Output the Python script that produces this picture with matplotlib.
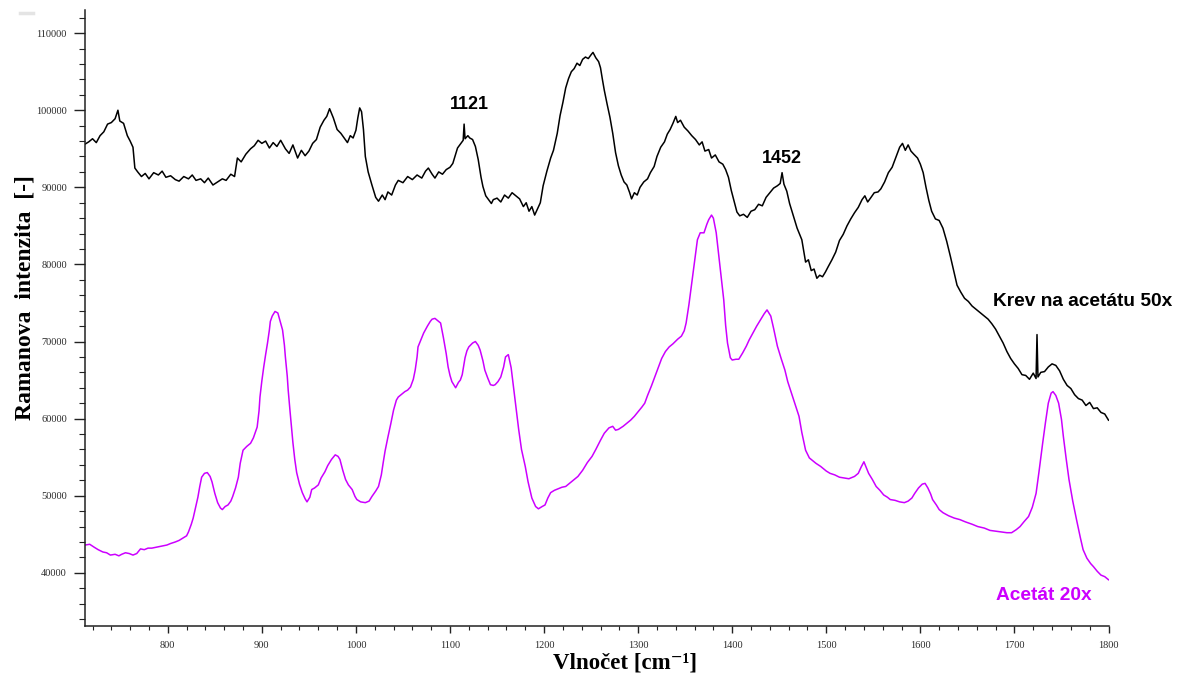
import matplotlib
matplotlib.use("Agg")
import matplotlib.pyplot as plt
from matplotlib.ticker import MultipleLocator
from matplotlib.lines import Line2D

# Raman spectrum of blood on acetate (50x objective)
krev_x = [712, 716, 720, 724, 728, 732, 736, 740, 744, 747, 749, 753, 757, 760, 763, 765, 768, 772, 776, 780,
          785, 790, 794, 798, 803, 808, 812, 817, 822, 826, 830, 835, 839, 843, 848, 853, 858, 862, 867, 871,
          874, 878, 883, 888, 892, 896, 900, 904, 908, 912, 916, 920, 925, 929, 933, 938, 942, 946, 950, 954,
          958, 962, 966, 969, 972, 976, 980, 984, 988, 991, 994, 997, 1000, 1002, 1004, 1006, 1008, 1010, 1013, 1017,
          1021, 1024, 1028, 1031, 1034, 1038, 1042, 1045, 1050, 1055, 1060, 1065, 1070, 1074, 1077, 1081, 1084, 1088, 1092, 1096,
          1100, 1103, 1106, 1108, 1111, 1114, 1115, 1116, 1119, 1121, 1124, 1127, 1130, 1133, 1135, 1138, 1141, 1144, 1146, 1150,
          1154, 1158, 1162, 1166, 1170, 1174, 1178, 1181, 1184, 1187, 1190, 1193, 1196, 1199, 1203, 1207, 1210, 1214, 1217, 1220,
          1223, 1226, 1229, 1232, 1235, 1238, 1241, 1244, 1247, 1250, 1252, 1255, 1258, 1260, 1262, 1264, 1267, 1270, 1273, 1276,
          1279, 1282, 1285, 1288, 1291, 1293, 1296, 1299, 1302, 1306, 1310, 1313, 1317, 1320, 1324, 1328, 1331, 1334, 1337, 1340,
          1342, 1345, 1349, 1353, 1357, 1361, 1365, 1368, 1371, 1375, 1378, 1382, 1386, 1390, 1393, 1396, 1399, 1402, 1405, 1408,
          1412, 1416, 1420, 1424, 1428, 1432, 1436, 1440, 1444, 1448, 1451, 1453, 1455, 1458, 1461, 1465, 1469, 1474, 1478, 1481,
          1484, 1487, 1490, 1493, 1496, 1499, 1502, 1506, 1510, 1514, 1518, 1522, 1526, 1530, 1534, 1538, 1541, 1544, 1547, 1551,
          1555, 1558, 1562, 1566, 1570, 1574, 1578, 1581, 1584, 1587, 1590, 1593, 1597, 1600, 1603, 1606, 1609, 1612, 1616, 1620,
          1624, 1628, 1632, 1636, 1639, 1643, 1647, 1651, 1655, 1660, 1664, 1668, 1672, 1676, 1680, 1684, 1688, 1692, 1696, 1700,
          1704, 1708, 1712, 1716, 1720, 1723, 1724, 1725, 1728, 1732, 1736, 1740, 1744, 1748, 1752, 1756, 1760, 1764, 1768, 1772,
          1776, 1780, 1784, 1788, 1792, 1796, 1800]
krev_y = [95600, 95900, 96300, 95800, 96700, 97200, 98200, 98400, 98900, 100000, 98600, 98300, 96700, 96000, 95200, 92500, 92000, 91400, 91800, 91100,
          91900, 91600, 92100, 91300, 91500, 91000, 90800, 91400, 91100, 91600, 90900, 91100, 90600, 91200, 90300, 90700, 91100, 90900, 91700, 91400,
          93800, 93300, 94300, 95000, 95400, 96100, 95700, 96000, 95100, 95800, 95300, 96100, 95000, 94400, 95500, 93800, 94800, 94100, 94700, 95700,
          96200, 97800, 98700, 99200, 100200, 99000, 97500, 97000, 96300, 95800, 96700, 96400, 97400, 99000, 100300, 99800, 97500, 94000, 92000, 90300,
          88700, 88200, 89000, 88400, 89400, 89000, 90300, 90900, 90600, 91400, 91000, 91600, 91200, 92100, 92500, 91700, 91200, 92000, 91700, 92300,
          92600, 93100, 94300, 95100, 95600, 96100, 98200, 96300, 96700, 96400, 96200, 95300, 93600, 91300, 90100, 88900, 88400, 87900, 88400, 88600,
          88100, 89000, 88600, 89300, 88900, 88500, 87500, 88000, 86900, 87500, 86400, 87200, 88000, 90200, 92100, 93800, 94800, 97000, 99300, 101000,
          102900, 104100, 105000, 105400, 106100, 105800, 106600, 106900, 106700, 107200, 107500, 106800, 106300, 105500, 104000, 102600, 100800, 99100, 97000, 94500,
          92800, 91600, 90700, 90300, 89300, 88500, 89300, 89000, 90000, 90700, 91100, 91900, 92700, 94000, 95200, 95900, 96900, 97500, 98300, 99200,
          98400, 98700, 97800, 97300, 96700, 96200, 95500, 95900, 94700, 94900, 93800, 94200, 93300, 93000, 92300, 91300, 89600, 88200, 86800, 86300,
          86500, 86100, 86900, 87100, 87800, 87600, 88700, 89300, 89900, 90200, 90500, 91900, 90400, 89500, 87900, 86300, 84700, 83200, 80300, 80600,
          79200, 79400, 78200, 78600, 78400, 79000, 79700, 80600, 81600, 83100, 83900, 85000, 85900, 86700, 87400, 88400, 88900, 88100, 88600, 89300,
          89400, 89800, 90700, 91900, 92600, 93900, 95200, 95700, 94800, 95500, 94700, 94300, 93800, 93000, 91900, 90000, 88300, 86900, 85900, 85700,
          84700, 83000, 81000, 78900, 77300, 76400, 75600, 75200, 74600, 74100, 73700, 73300, 72900, 72300, 71600, 70700, 69800, 68700, 67800, 67100,
          66500, 65700, 65600, 65100, 65900, 65200, 70900, 65400, 66000, 66100, 66700, 67100, 66900, 66200, 65100, 64300, 63900, 63100, 62600, 62400,
          61700, 62100, 61300, 61400, 60800, 60600, 59800]

# Raman spectrum of the acetate foil (20x objective)
acetat_x = [712, 717, 722, 726, 731, 735, 739, 744, 748, 751, 755, 759, 763, 767, 771, 775, 779, 783, 787, 791,
            795, 799, 803, 808, 812, 816, 820, 822, 825, 827, 830, 832, 834, 836, 839, 842, 845, 847, 850, 853,
            856, 858, 861, 864, 867, 869, 872, 875, 877, 880, 884, 888, 891, 893, 895, 897, 898, 900, 902, 904,
            906, 908, 909, 911, 914, 917, 919, 922, 924, 925, 927, 928, 930, 933, 935, 937, 940, 943, 946, 948,
            951, 953, 956, 960, 963, 967, 970, 974, 978, 981, 983, 986, 989, 992, 996, 999, 1001, 1005, 1010, 1014,
            1017, 1021, 1024, 1027, 1029, 1031, 1034, 1037, 1040, 1043, 1045, 1049, 1052, 1055, 1058, 1061, 1063, 1065, 1066, 1069,
            1072, 1076, 1079, 1081, 1084, 1086, 1090, 1093, 1096, 1098, 1100, 1102, 1106, 1109, 1111, 1113, 1116, 1118, 1120, 1124,
            1127, 1130, 1132, 1135, 1137, 1140, 1143, 1146, 1148, 1151, 1154, 1157, 1159, 1162, 1165, 1167, 1170, 1173, 1176, 1180,
            1183, 1187, 1191, 1194, 1198, 1201, 1204, 1207, 1211, 1215, 1219, 1223, 1228, 1232, 1236, 1241, 1246, 1251, 1255, 1260,
            1264, 1269, 1273, 1276, 1279, 1284, 1288, 1292, 1296, 1300, 1304, 1307, 1310, 1314, 1318, 1322, 1325, 1329, 1333, 1337,
            1342, 1346, 1349, 1351, 1354, 1357, 1360, 1363, 1366, 1370, 1373, 1375, 1378, 1380, 1383, 1385, 1387, 1389, 1391, 1393,
            1395, 1398, 1400, 1404, 1407, 1411, 1415, 1418, 1422, 1426, 1430, 1434, 1437, 1441, 1444, 1448, 1452, 1456, 1459, 1463,
            1467, 1471, 1474, 1478, 1482, 1486, 1489, 1494, 1500, 1504, 1509, 1514, 1519, 1524, 1530, 1534, 1537, 1540, 1542, 1545,
            1549, 1553, 1557, 1561, 1565, 1568, 1573, 1578, 1583, 1587, 1591, 1594, 1598, 1602, 1605, 1608, 1611, 1613, 1617, 1620,
            1624, 1630, 1636, 1642, 1648, 1655, 1661, 1668, 1674, 1680, 1686, 1692, 1697, 1702, 1706, 1710, 1715, 1719, 1723, 1726,
            1730, 1733, 1736, 1739, 1741, 1744, 1747, 1750, 1752, 1755, 1758, 1762, 1766, 1770, 1773, 1777, 1781, 1784, 1788, 1792,
            1796, 1800]
acetat_y = [43600, 43700, 43300, 43000, 42700, 42600, 42300, 42400, 42200, 42400, 42600, 42500, 42300, 42500, 43100, 43000, 43200, 43200, 43300, 43400,
            43500, 43600, 43800, 44000, 44200, 44500, 44800, 45300, 46300, 47100, 48700, 49800, 51200, 52400, 52900, 53000, 52500, 51800, 50300, 49100,
            48400, 48200, 48600, 48800, 49300, 49900, 51000, 52400, 54200, 55900, 56400, 56800, 57500, 58200, 58900, 61000, 62800, 64900, 66700, 68300,
            69800, 71500, 72600, 73300, 73900, 73700, 72800, 71500, 69500, 68000, 65500, 63700, 60900, 56900, 54700, 53000, 51500, 50400, 49600, 49200,
            49800, 50800, 51000, 51400, 52300, 53100, 53900, 54700, 55300, 55100, 54700, 53300, 52100, 51400, 50800, 49900, 49500, 49200, 49100, 49300,
            49900, 50600, 51200, 52700, 54300, 55800, 57600, 59300, 61100, 62400, 62800, 63200, 63500, 63700, 64100, 65100, 66300, 68000, 69300, 70200,
            71100, 72000, 72600, 72900, 73000, 72800, 72400, 70500, 68400, 66700, 65600, 64800, 64000, 64700, 65000, 65700, 67900, 68800, 69300, 69800,
            70000, 69500, 68900, 67500, 66300, 65300, 64400, 64300, 64400, 64800, 65400, 66700, 68000, 68300, 66600, 64600, 61500, 58600, 56000, 53800,
            51800, 49700, 48600, 48300, 48600, 48800, 49700, 50400, 50700, 50900, 51100, 51200, 51700, 52100, 52500, 53300, 54300, 55100, 56000, 57200,
            58100, 58800, 59000, 58500, 58600, 59000, 59400, 59800, 60300, 60900, 61500, 62000, 63000, 64200, 65500, 66800, 67800, 68700, 69300, 69700,
            70300, 70700, 71400, 72400, 74800, 77600, 80500, 83200, 84100, 84100, 85200, 85800, 86400, 86000, 84100, 81900, 79700, 77600, 75400, 72100,
            69800, 67900, 67600, 67700, 67700, 68500, 69400, 70200, 71100, 72000, 72800, 73600, 74100, 73300, 71700, 69400, 67800, 66300, 64800, 63300,
            61800, 60300, 58200, 55900, 54900, 54500, 54200, 53800, 53200, 52900, 52700, 52400, 52300, 52200, 52500, 52900, 53700, 54400, 53800, 52900,
            52100, 51200, 50700, 50100, 49800, 49500, 49400, 49200, 49100, 49300, 49700, 50300, 51000, 51500, 51600, 51000, 50200, 49500, 48800, 48200,
            47800, 47400, 47100, 46900, 46600, 46300, 46000, 45800, 45500, 45400, 45300, 45200, 45200, 45600, 46000, 46600, 47300, 48500, 50300, 53000,
            56800, 59500, 62000, 63300, 63500, 63000, 62000, 59900, 57700, 54800, 52100, 49300, 46900, 44600, 43000, 41900, 41200, 40800, 40200, 39700,
            39500, 39100]

# Band positions marked on the blood spectrum
peak_labels = ["1121", "1452"]
peak_label_x = [1121, 1453]
peak_label_y = [100700, 93800]

series_names = ["Krev na acetátu 50x", "Acetát 20x"]

KREV_COLOR = "black"
ACETAT_COLOR = "#CC00FF"

fig = plt.figure(figsize=(11.89, 6.75), dpi=100)
ax = fig.add_axes([85 / 1189, 1 - 626 / 675, (1108.5 - 85) / 1189, (626 - 10) / 675])

ax.plot(krev_x, krev_y, color=KREV_COLOR, lw=1.1)
ax.plot(acetat_x, acetat_y, color=ACETAT_COLOR, lw=1.1)

ax.set_xlim(712, 1800)
ax.set_ylim(33100, 113000)

for s in ["top", "right"]:
    ax.spines[s].set_visible(False)
for s in ["left", "bottom"]:
    ax.spines[s].set_linewidth(1.1)
    ax.spines[s].set_color("#222222")

ax.xaxis.set_major_locator(MultipleLocator(100))
ax.xaxis.set_minor_locator(MultipleLocator(20))
ax.yaxis.set_major_locator(MultipleLocator(10000))
ax.yaxis.set_minor_locator(MultipleLocator(2000))

ax.tick_params(axis="x", which="major", direction="out", length=5, width=1.0, color="#222222", pad=6)
ax.tick_params(axis="x", which="minor", direction="out", length=3, width=0.8, color="#222222")
ax.tick_params(axis="y", which="major", direction="out", length=8, width=1.0, color="#222222", pad=5)
ax.tick_params(axis="y", which="minor", direction="out", length=4.3, width=0.8, color="#222222")

for lab in ax.get_xticklabels() + ax.get_yticklabels():
    lab.set_fontfamily("Liberation Serif")
    lab.set_fontsize(7.5)
    lab.set_color("#2b2b2b")

for t, x, y in zip(peak_labels, peak_label_x, peak_label_y):
    ax.text(x, y, t, ha="center", va="center", fontsize=13, fontweight="bold",
            family="Liberation Sans", color="black")

ax.text(1677.5, 75150, series_names[0], ha="left", va="center", fontsize=13.8,
        fontweight="bold", family="Liberation Sans", color=KREV_COLOR)
ax.text(1680.5, 37000, series_names[1], ha="left", va="center", fontsize=13.8,
        fontweight="bold", family="Liberation Sans", color=ACETAT_COLOR)

fig.text(25 / 1189, 1 - 298 / 675, "Ramanova  intenzita  [-]", rotation=90, ha="center", va="center",
         fontsize=17, fontweight="bold", family="Liberation Serif")
fig.text(625 / 1189, 1 - 663 / 675, "Vlnočet [cm⁻¹]", ha="center", va="center",
         fontsize=16.5, fontweight="bold", family=["Liberation Serif", "DejaVu Serif"])

# small grey mark in the top-left corner
fig.add_artist(Line2D([20 / 1189, 33 / 1189], [1 - 13 / 675, 1 - 13 / 675], color="#e4e4e4", lw=2.5))

fig.savefig("out.png", dpi=100)
